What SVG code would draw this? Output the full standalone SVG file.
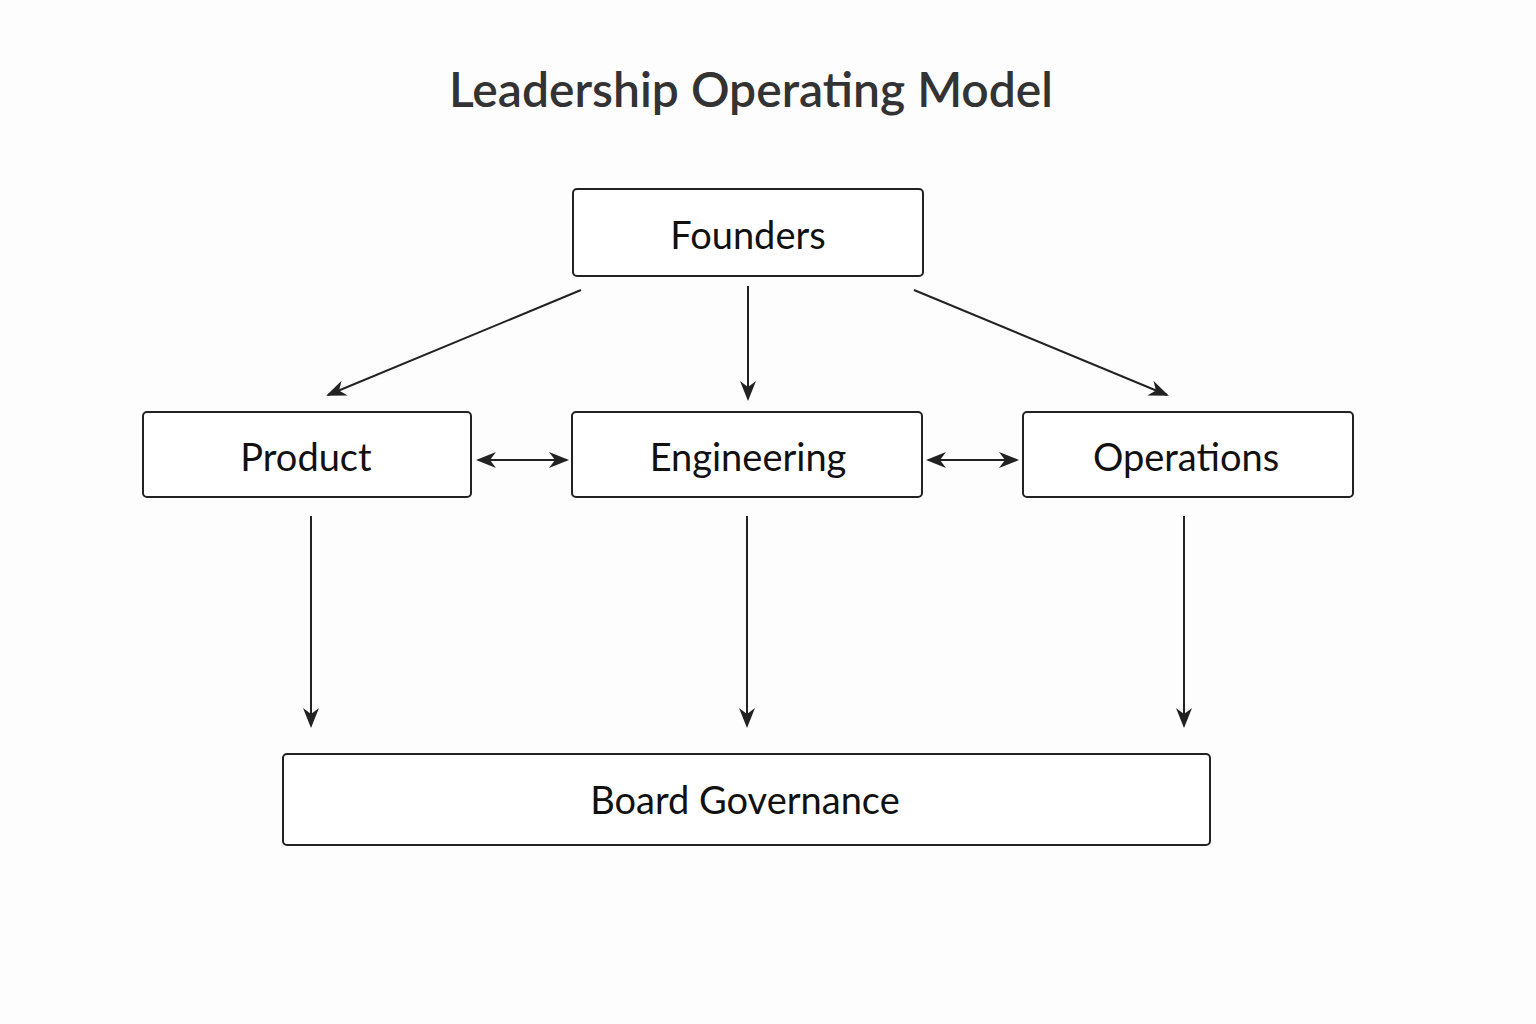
<svg xmlns="http://www.w3.org/2000/svg" width="1536" height="1024" viewBox="0 0 1536 1024">
<style>
.box{fill:#fff;stroke:#222;stroke-width:2}
.lbl{font-family:"Lato","Noto Sans",sans-serif;font-size:38px;fill:#111;text-anchor:middle;dominant-baseline:central}
.ln{stroke:#222;stroke-width:2;fill:none}
</style>
<defs>
<marker id="ah" viewBox="0 0 20 20" refX="18" refY="10" markerWidth="20" markerHeight="20" markerUnits="userSpaceOnUse" orient="auto-start-reverse">
<path d="M0,2 L20,10 L0,18 L6,10 Z" fill="#222"/>
</marker>
</defs>
<rect width="1536" height="1024" fill="#fdfdfd"/>
<text x="751" y="88" font-family="Lato,'Noto Sans',sans-serif" font-size="48" font-weight="600" fill="#333" text-anchor="middle" dominant-baseline="central">Leadership Operating Model</text>
<g id="founders"><rect class="box" x="573" y="189" width="350" height="87" rx="4"/><text class="lbl" x="748" y="234">Founders</text></g>
<g id="product"><rect class="box" x="143" y="412" width="328" height="85" rx="4"/><text class="lbl" x="306" y="456">Product</text></g>
<g id="engineering"><rect class="box" x="572" y="412" width="350" height="85" rx="4"/><text class="lbl" x="748" y="456">Engineering</text></g>
<g id="operations"><rect class="box" x="1023" y="412" width="330" height="85" rx="4"/><text class="lbl" x="1186" y="456">Operations</text></g>
<g id="board"><rect class="box" x="283" y="754" width="927" height="91" rx="4"/><text class="lbl" x="745" y="799">Board Governance</text></g>
<g id="connectors">
<line class="ln" x1="581" y1="290" x2="328" y2="395" marker-end="url(#ah)"/>
<line class="ln" x1="748" y1="286" x2="748" y2="399" marker-end="url(#ah)"/>
<line class="ln" x1="914" y1="290" x2="1167" y2="395" marker-end="url(#ah)"/>
<line class="ln" x1="478" y1="460" x2="567" y2="460" marker-start="url(#ah)" marker-end="url(#ah)"/>
<line class="ln" x1="928" y1="460" x2="1017" y2="460" marker-start="url(#ah)" marker-end="url(#ah)"/>
<line class="ln" x1="311" y1="516" x2="311" y2="726" marker-end="url(#ah)"/>
<line class="ln" x1="747" y1="516" x2="747" y2="726" marker-end="url(#ah)"/>
<line class="ln" x1="1184" y1="516" x2="1184" y2="726" marker-end="url(#ah)"/>
</g>
</svg>
